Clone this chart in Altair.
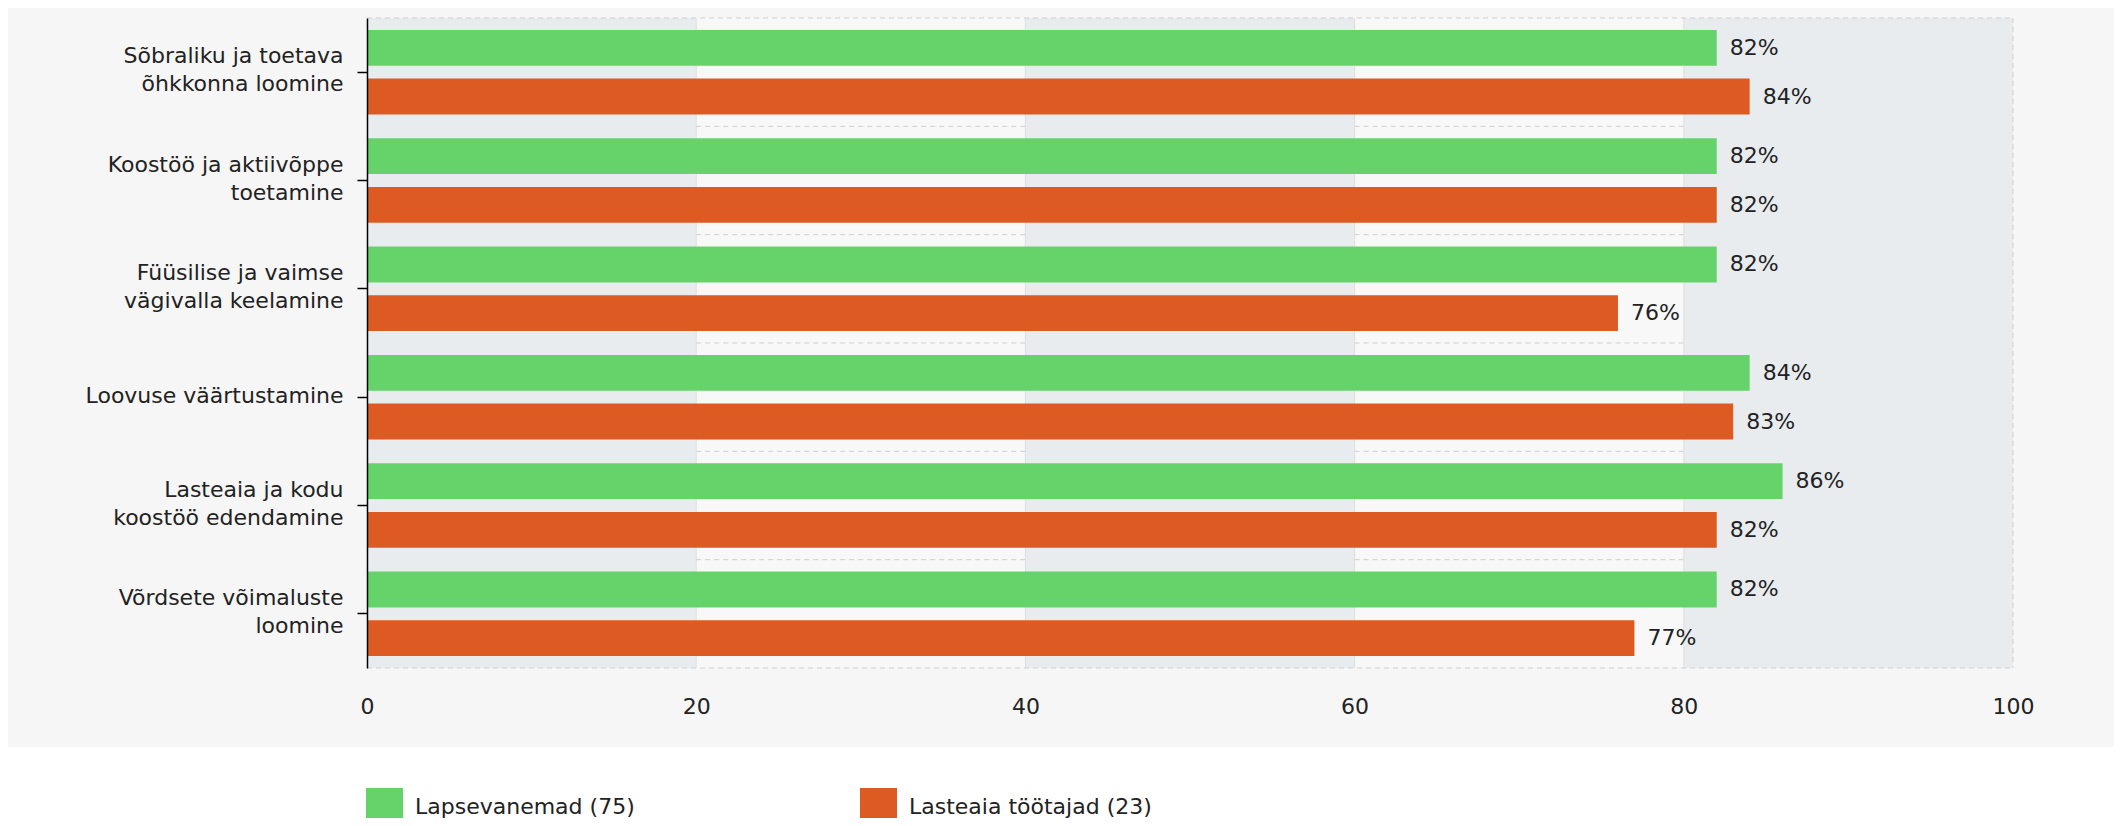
import altair as alt
import pandas as pd

# ---- data ----
categories = [
    "Sõbraliku ja toetava\nõhkkonna loomine",
    "Koostöö ja aktiivõppe\ntoetamine",
    "Füüsilise ja vaimse\nvägivalla keelamine",
    "Loovuse väärtustamine",
    "Lasteaia ja kodu\nkoostöö edendamine",
    "Võrdsete võimaluste\nloomine",
]
series = ["Lapsevanemad (75)", "Lasteaia töötajad (23)"]
parents = [82, 82, 82, 84, 86, 82]
staff = [84, 82, 76, 83, 82, 77]
colors = ["#66d36a", "#dd5a22"]
x_ticks = [0, 20, 40, 60, 80, 100]
dark_bands = [(0, 20), (40, 60), (80, 100)]
light_bands = [(20, 40), (60, 80)]
inner_lines = [20, 40, 60, 80]

FONT = "DejaVu Sans"
TXT = "#222222"
FS = 22
W, H = 1646, 650

rows = []
for c, a, b in zip(categories, parents, staff):
    rows.append({"cat": c, "series": series[0], "value": a, "label": f"{a}%"})
    rows.append({"cat": c, "series": series[1], "value": b, "label": f"{b}%"})
df = pd.DataFrame(rows)

dark_df = pd.DataFrame(dark_bands, columns=["x0", "x1"])
light_df = pd.DataFrame(light_bands, columns=["x0", "x1"])
vline_df = pd.DataFrame({"x": inner_lines})
edge_df = pd.DataFrame({"x": [100]})
hgrid_df = pd.DataFrame(
    [{"cat": c, "x0": a, "x1": b} for c in categories[1:] for (a, b) in light_bands]
)

xscale = alt.Scale(domain=[0, 100], nice=False, zero=True)
yscale = alt.Scale(domain=categories, paddingInner=0, paddingOuter=0)
offscale = alt.Scale(domain=series, paddingInner=0.265, paddingOuter=0.245)

x_axis = alt.Axis(values=x_ticks, grid=False, domain=False, ticks=False, tickSize=0,
                  labelPadding=28, labelFont=FONT, labelFontSize=FS, labelColor=TXT,
                  labelFlush=False, title=None, zindex=2)
y_axis = alt.Axis(labelExpr="split(datum.label, '\\n')", labelFont=FONT,
                  labelFontSize=FS, labelColor=TXT, labelLineHeight=28,
                  labelOffset={"condition": {"test": "indexof(datum.value, '\\n') >= 0",
                                             "value": -16}, "value": -1},
                  labelLimit=0, labelPadding=14, tickSize=10, tickColor="#000000",
                  domainColor="#000000", domainWidth=1.5, tickWidth=1.5, grid=False,
                  title=None, zindex=2)

one = pd.DataFrame({"a": [0]})

background = alt.Chart(one).mark_rect(color="#f6f6f6").encode(
    x=alt.value(-359), x2=alt.value(1747), y=alt.value(-10), y2=alt.value(729)
)

dark = alt.Chart(dark_df).mark_rect(color="#e9ecef").encode(
    x=alt.X("x0:Q", scale=xscale, axis=x_axis), x2="x1:Q",
    y=alt.value(0), y2=alt.value(H),
)
light = alt.Chart(light_df).mark_rect(color="#f8f8f8").encode(
    x=alt.X("x0:Q", scale=xscale, axis=x_axis), x2="x1:Q",
    y=alt.value(0), y2=alt.value(H),
)
vlines = alt.Chart(vline_df).mark_rule(color="#dedede", strokeWidth=1).encode(
    x=alt.X("x:Q", scale=xscale, axis=x_axis), y=alt.value(0), y2=alt.value(H)
)
edge = alt.Chart(edge_df).mark_rule(color="#cfcfcf", strokeWidth=1, strokeDash=[5, 4]).encode(
    x=alt.X("x:Q", scale=xscale, axis=x_axis), y=alt.value(0), y2=alt.value(H)
)
hgrid = alt.Chart(hgrid_df).mark_rule(color="#cfcfcf", strokeWidth=1, strokeDash=[5, 4]).encode(
    x=alt.X("x0:Q", scale=xscale, axis=x_axis), x2="x1:Q",
    y=alt.Y("cat:N", scale=yscale, bandPosition=0, axis=y_axis),
)
frame = alt.Chart(pd.DataFrame({"y": [0, H]})).mark_rule(
    color="#cfcfcf", strokeWidth=1, strokeDash=[5, 4]
).encode(x=alt.value(0), x2=alt.value(W), y=alt.Y("y:Q", scale=None, axis=None))

bars = alt.Chart(df).mark_bar().encode(
    x=alt.X("value:Q", scale=xscale, axis=x_axis),
    y=alt.Y("cat:N", scale=yscale, axis=y_axis),
    yOffset=alt.YOffset("series:N", scale=offscale),
    color=alt.Color(
        "series:N", scale=alt.Scale(domain=series, range=colors),
        legend=alt.Legend(orient="none", legendX=-1, legendY=770, direction="horizontal",
                          title=None, symbolType="square", symbolSize=1369,
                          symbolStrokeWidth=0, symbolOpacity=1, labelFont=FONT,
                          labelFontSize=FS, labelColor=TXT, labelOffset=12,
                          labelLimit=0, columnPadding=225, padding=0),
    ),
)

labels = alt.Chart(df).mark_text(
    align="left", baseline="middle", dx=13, font=FONT, fontSize=FS, color=TXT
).encode(
    x=alt.X("value:Q", scale=xscale, axis=x_axis),
    y=alt.Y("cat:N", scale=yscale, axis=y_axis),
    yOffset=alt.YOffset("series:N", scale=offscale),
    text="label:N",
)

chart = alt.layer(
    background, dark, light, vlines, edge, hgrid, frame, bars, labels
).properties(
    width=W, height=H,
    autosize=alt.AutoSizeParams(type="none"),
    padding={"left": 359, "top": 10, "right": 101, "bottom": 150},
    background="#ffffff",
).configure_view(stroke=None)

chart.save("out.html", embed_options={"renderer": "svg", "actions": False})
